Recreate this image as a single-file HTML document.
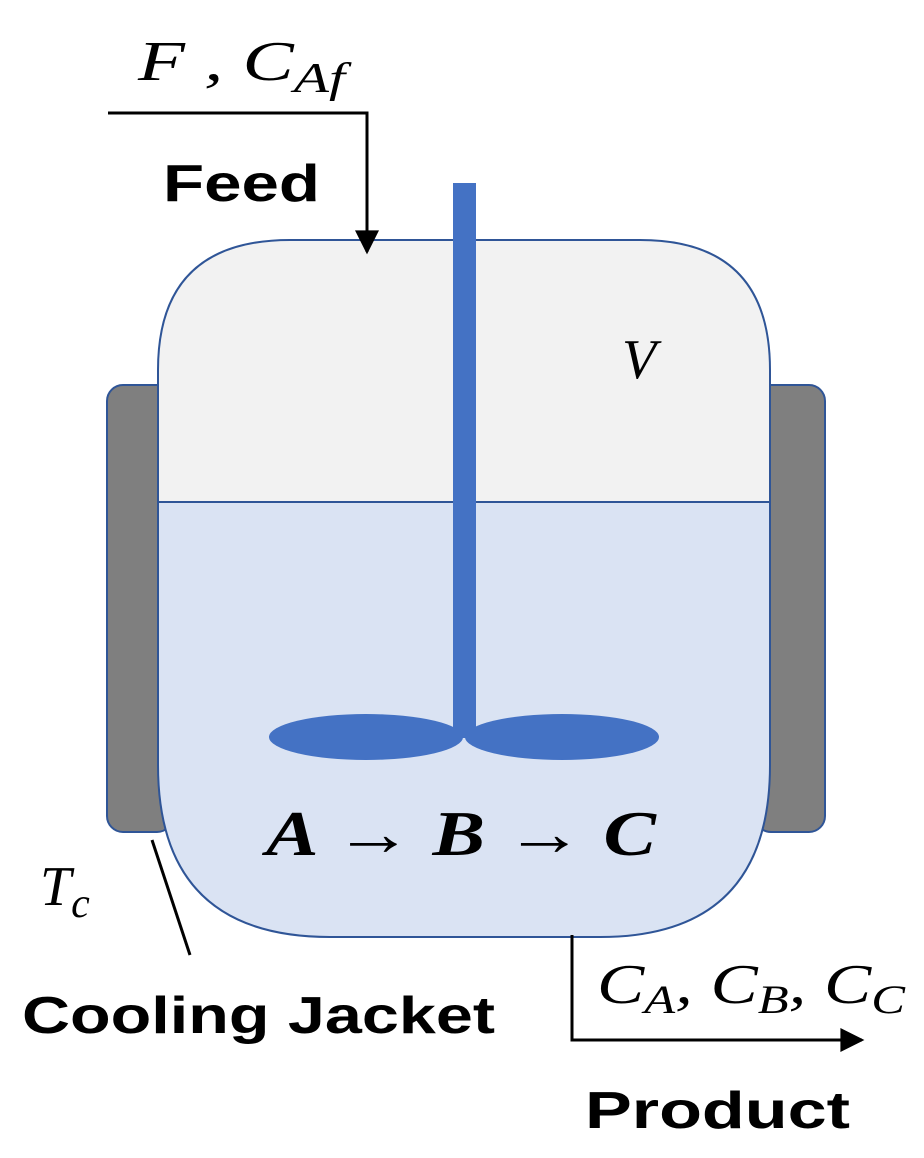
<!DOCTYPE html>
<html><head><meta charset="utf-8"><style>
html,body{margin:0;padding:0;background:#fff}
svg{display:block}
.it{font-family:"Liberation Serif",serif;font-style:italic}
.b{font-family:"Liberation Sans",sans-serif;font-weight:bold}
</style></head><body>
<svg width="924" height="1158" viewBox="0 0 924 1158" xmlns="http://www.w3.org/2000/svg">
<defs>
<clipPath id="v"><path d="M290,240 H640 Q770,240 770,370 V765 Q770,937 600,937 H330 Q158,937 158,765 V370 Q158,240 290,240 Z"/></clipPath>
<marker id="ar" viewBox="0 0 10 10" refX="9" refY="5" markerWidth="26" markerHeight="24" markerUnits="userSpaceOnUse" orient="auto"><path d="M0,0 L10,5 L0,10 Z" fill="#000"/></marker>
</defs>
<rect x="107" y="385" width="66" height="447" rx="16" fill="#7f7f7f" stroke="#2f5597" stroke-width="2"/>
<rect x="755" y="385" width="70" height="447" rx="16" fill="#7f7f7f" stroke="#2f5597" stroke-width="2"/>
<g clip-path="url(#v)">
<rect x="150" y="230" width="630" height="272" fill="#f2f2f2"/>
<rect x="150" y="502" width="630" height="450" fill="#dae3f3"/>
<line x1="150" y1="502" x2="780" y2="502" stroke="#2f5597" stroke-width="2"/>
</g>
<path d="M290,240 H640 Q770,240 770,370 V765 Q770,937 600,937 H330 Q158,937 158,765 V370 Q158,240 290,240 Z" fill="none" stroke="#2f5597" stroke-width="2"/>
<rect x="453" y="183" width="23" height="555" fill="#4472c4"/>
<ellipse cx="366" cy="737" rx="97" ry="23" fill="#4472c4"/>
<ellipse cx="562" cy="737" rx="97" ry="23" fill="#4472c4"/>
<polyline points="108,113 367,113 367,252" fill="none" stroke="#000" stroke-width="3" marker-end="url(#ar)"/>
<polyline points="572,935 572,1040 862,1040" fill="none" stroke="#000" stroke-width="3" marker-end="url(#ar)"/>
<line x1="152" y1="840" x2="190" y2="955" stroke="#000" stroke-width="3"/>
<text x="138" y="80" class="it" font-size="56" textLength="207" lengthAdjust="spacingAndGlyphs">F , C<tspan font-size="42" dy="12">Af</tspan></text>
<text x="163" y="201" class="b" font-size="52" textLength="157" lengthAdjust="spacingAndGlyphs">Feed</text>
<text x="622" y="378" class="it" font-size="56">V</text>
<text x="266" y="855" class="it" font-size="64" font-weight="bold" textLength="390" lengthAdjust="spacingAndGlyphs">A → B → C</text>
<text x="40" y="905" class="it" font-size="56">T<tspan font-size="42" dy="12">c</tspan></text>
<text x="22" y="1033" class="b" font-size="52" textLength="473" lengthAdjust="spacingAndGlyphs">Cooling Jacket</text>
<text x="597" y="1003" class="it" font-size="56" textLength="308" lengthAdjust="spacingAndGlyphs">C<tspan font-size="40" dy="10">A</tspan><tspan dy="-10">, C</tspan><tspan font-size="40" dy="10">B</tspan><tspan dy="-10">, C</tspan><tspan font-size="40" dy="10">C</tspan></text>
<text x="585" y="1128" class="b" font-size="52" textLength="265" lengthAdjust="spacingAndGlyphs">Product</text>
</svg>
</body></html>
